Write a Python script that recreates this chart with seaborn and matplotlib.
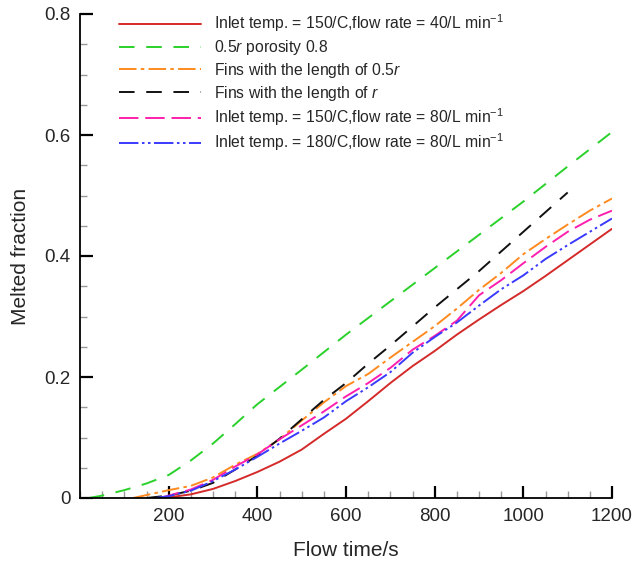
import matplotlib
matplotlib.use("Agg")
import matplotlib.pyplot as plt
from matplotlib.ticker import MultipleLocator, FixedLocator
import seaborn as sns

# Melting curves: flow time (s) vs melted fraction for each configuration
t_base = [190, 250, 300, 350, 400, 450, 500, 550, 600, 650, 700, 750, 800,
          850, 900, 950, 1000, 1050, 1100, 1150, 1200]
f_base = [0, 0.006, 0.015, 0.028, 0.043, 0.06, 0.08, 0.106, 0.131, 0.16,
          0.19, 0.218, 0.243, 0.27, 0.295, 0.319, 0.342, 0.367, 0.393, 0.419, 0.445]

t_porous = [20, 50, 100, 150, 200, 250, 300, 350, 400, 500, 600, 700, 800,
            900, 1000, 1100, 1200]
f_porous = [0, 0.004, 0.013, 0.024, 0.038, 0.062, 0.09, 0.122, 0.155, 0.212,
            0.27, 0.325, 0.38, 0.435, 0.49, 0.548, 0.605]

t_fin_half = [120, 200, 250, 300, 350, 400, 450, 500, 550, 600, 650, 700, 750,
              800, 850, 900, 950, 1000, 1050, 1100, 1150, 1200]
f_fin_half = [0, 0.013, 0.02, 0.034, 0.055, 0.073, 0.097, 0.128, 0.158, 0.185,
              0.205, 0.232, 0.258, 0.284, 0.313, 0.344, 0.372, 0.403, 0.428,
              0.452, 0.475, 0.495]

t_fin_full = [150, 200, 250, 300, 350, 400, 450, 500, 550, 600, 650, 700, 800,
              900, 1000, 1100]
f_fin_full = [0, 0.004, 0.012, 0.025, 0.047, 0.07, 0.098, 0.13, 0.162, 0.19,
              0.222, 0.252, 0.315, 0.375, 0.44, 0.505]

t_rate80 = [180, 200, 250, 300, 350, 400, 450, 500, 550, 600, 650, 700, 750,
            800, 850, 900, 950, 1000, 1050, 1100, 1150, 1200]
f_rate80 = [0, 0.004, 0.014, 0.03, 0.052, 0.072, 0.097, 0.12, 0.143, 0.168,
            0.19, 0.215, 0.245, 0.268, 0.293, 0.335, 0.36, 0.388, 0.415, 0.44,
            0.46, 0.475]

t_temp180 = [170, 200, 250, 300, 350, 400, 450, 500, 550, 600, 650, 700, 750,
             800, 850, 900, 950, 1000, 1050, 1100, 1150, 1200]
f_temp180 = [0, 0.003, 0.012, 0.028, 0.047, 0.068, 0.09, 0.111, 0.133, 0.16,
             0.183, 0.208, 0.24, 0.266, 0.29, 0.318, 0.345, 0.368, 0.395,
             0.418, 0.44, 0.462]

labels = [
    "Inlet temp. = 150/C,flow rate = 40/L min$^{\u22121}$",
    "0.5$\\it{r}$ porosity 0.8",
    "Fins with the length of 0.5$\\it{r}$",
    "Fins with the length of $\\it{r}$",
    "Inlet temp. = 150/C,flow rate = 80/L min$^{\u22121}$",
    "Inlet temp. = 180/C,flow rate = 80/L min$^{\u22121}$",
]

sns.set_theme(style="white")
plt.rcParams["font.family"] = ["Liberation Sans", "DejaVu Sans"]
plt.rcParams["mathtext.fontset"] = "custom"
plt.rcParams["mathtext.rm"] = "Liberation Sans"
plt.rcParams["mathtext.it"] = "Liberation Sans:italic"

fig = plt.figure(figsize=(6.44, 5.64), dpi=100)
ax = fig.add_axes([80 / 644, 1 - 498 / 564, (612 - 80) / 644, (498 - 14) / 564])

series = [
    (t_base, f_base, "#d42a2a", "-"),
    (t_porous, f_porous, "#2ad12a", (0, (8, 6))),
    (t_fin_half, f_fin_half, "#ff8a1f", (0, (9, 2.2, 1.8, 2.2))),
    (t_fin_full, f_fin_full, "#111111", (0, (8, 6))),
    (t_rate80, f_rate80, "#ff1fae", (0, (10, 3.5))),
    (t_temp180, f_temp180, "#3a3aff", (0, (10, 1.8, 1.3, 1.8, 1.3, 1.8))),
]

lw = 1.4
for (tx, fy, col, ls), lab in zip(series, labels):
    sns.lineplot(x=tx, y=fy, color=col, linestyle=ls, linewidth=lw,
                 label=lab, ax=ax, legend=False, estimator=None)

ax.set_xlim(0, 1200)
ax.set_ylim(0, 0.8)
ax.xaxis.set_major_locator(FixedLocator([200, 400, 600, 800, 1000, 1200]))
ax.xaxis.set_minor_locator(MultipleLocator(50))
ax.yaxis.set_major_locator(FixedLocator([0, 0.2, 0.4, 0.6, 0.8]))
ax.yaxis.set_minor_locator(MultipleLocator(0.05))
ax.set_yticklabels(["0", "0.2", "0.4", "0.6", "0.8"])

for s in ["top", "right"]:
    ax.spines[s].set_visible(False)
for s in ["left", "bottom"]:
    ax.spines[s].set_color("black")
    ax.spines[s].set_linewidth(1.3)

ax.tick_params(which="major", direction="in", length=9, width=1.6,
               color="black", labelsize=13.5, pad=7, bottom=True, left=True)
ax.tick_params(which="minor", direction="in", length=5, width=1.0,
               color="#999999", bottom=True, left=True)

ax.set_xlabel("Flow time/s", fontsize=15, labelpad=12)
ax.set_ylabel("Melted fraction", fontsize=15, labelpad=10)

handles = ax.get_lines()[:6]
ax.legend(handles, labels, loc="upper left", bbox_to_anchor=(0.062, 1.016),
          frameon=False, fontsize=11.3, handlelength=5.2, handletextpad=0.85,
          labelspacing=0.24, borderaxespad=0.0)

fig.savefig("out.png", dpi=100)
